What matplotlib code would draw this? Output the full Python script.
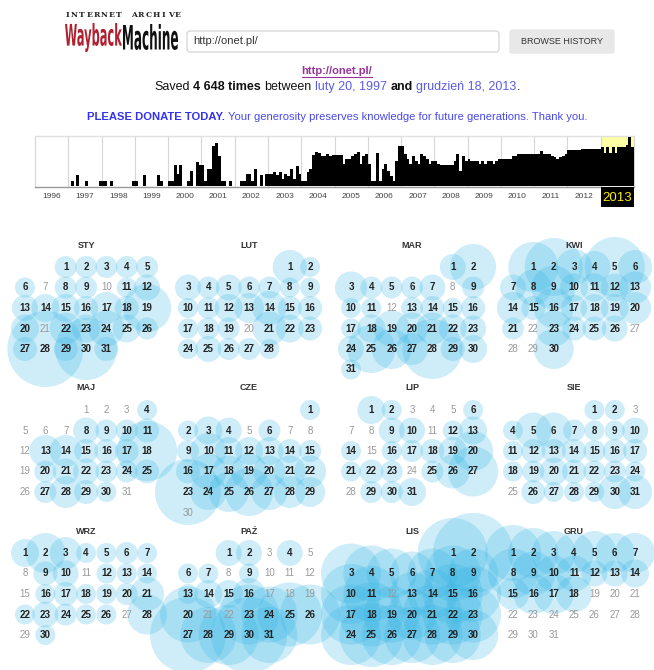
import calendar
import matplotlib
matplotlib.use('Agg')
import matplotlib.pyplot as plt
from matplotlib.patches import Circle, Rectangle, FancyBboxPatch, PathPatch
from matplotlib.textpath import TextPath
from matplotlib.font_manager import FontProperties
from matplotlib.transforms import Affine2D

plt.rcParams['font.family'] = ['Liberation Sans', 'DejaVu Sans']

#####################
# Data
#####################
url = 'http://onet.pl/'
years = list(range(1996, 2014))

# monthly capture bars, fraction of the strip height
y1996 = [0, 0, 0, 0, 0, 0, 0, 0, 0, 0, 0, 0]
y1997 = [0, .1, 0, .23, 0, 0, .1, 0, 0, 0, 0, .1]
y1998 = [.1, .1, 0, .1, 0, 0, 0, 0, 0, 0, 0, .1]
y1999 = [.1, 0, 0, .23, 0, 0, 0, 0, .23, .1, 0, 0]
y2000 = [.1, .1, .43, .25, .43, 0, 0, .1, .3, 0, .48, .42]
y2001 = [.42, .1, .35, .35, .8, .86, .6, .1, .1, 0, .1, 0]
y2002 = [0, 0, .1, .1, .25, .25, .1, .35, 0, .23, 0, .25]
y2003 = [.25, .25, .28, .22, .28, .15, .25, .2, .35, .15, .4, .25]
y2004 = [.1, .1, .28, .35, .62, .68, .66, .6, .6, .65, .6, .62]
y2005 = [.62, .62, .62, .45, .55, .55, .6, .65, .68, .45, .6, .65]
y2006 = [.45, .1, .1, .66, .1, .35, .45, .3, .2, .1, .5, .8]
y2007 = [.8, .65, .55, .45, .6, .5, .45, .65, .6, .55, .45, .5]
y2008 = [.5, .45, .42, .42, .42, .42, .42, .5, .65, .3, .6, .5]
y2009 = [.55, .5, .5, .5, .45, .5, .45, .5, .5, .45, .5, .55]
y2010 = [.55, .55, .55, .55, .6, .6, .65, .65, .65, .65, .65, .65]
y2011 = [.65, .65, .7, .65, .65, .65, .6, .58, .55, .58, .6, .65]
y2012 = [.72, .72, .72, .72, .72, .75, .75, .75, .75, .75, .75, .75]
y2013 = [.79, .66, .79, .66, .79, .66, .79, .79, .79, .82, .99, .79]
year_bars = [y1996, y1997, y1998, y1999, y2000, y2001, y2002, y2003, y2004,
             y2005, y2006, y2007, y2008, y2009, y2010, y2011, y2012, y2013]

month_names = ['STY', 'LUT', 'MAR', 'KWI', 'MAJ', 'CZE',
               'LIP', 'SIE', 'WRZ', 'PAŹ', 'LIS', 'GRU']

# bubble radius per day of 2013 (0 = no capture)
sty = [11, 11, 11, 11, 11, 10, 0, 11, 11, 0, 10, 13, 13, 14, 14, 12, 16, 12, 24, 14,
       0, 16, 14, 18, 14, 11, 12, 38, 12, 31, 12]
lut = [17, 10, 13, 11, 13, 11, 11, 10, 10, 10, 11, 14, 15, 17, 12, 12, 10, 11, 11, 0,
       17, 14, 12, 10, 13, 11, 11, 10]
mar = [13, 23, 16, 11, 11, 11, 13, 0, 11, 10, 10, 0, 11, 12, 10, 12, 10, 14, 18, 16,
       16, 14, 13, 13, 24, 20, 16, 30, 12, 14, 10]
kwi = [25, 29, 18, 16, 30, 17, 13, 18, 22, 14, 14, 14, 16, 16, 12, 20, 13, 14, 14, 16,
       11, 0, 18, 12, 12, 13, 0, 0, 0, 20]
maj = [0, 0, 0, 10, 0, 0, 0, 13, 11, 11, 12, 0, 16, 16, 12, 12, 12, 30, 0, 11,
       13, 13, 11, 11, 12, 0, 11, 16, 12, 10, 0]
cze = [10, 10, 14, 13, 0, 11, 0, 0, 11, 18, 14, 14, 14, 12, 11, 12, 18, 16, 18, 16,
       16, 16, 33, 18, 20, 24, 18, 16, 15, 0]
lip = [14, 10, 0, 0, 0, 10, 0, 0, 13, 13, 0, 10, 14, 10, 0, 10, 11, 12, 14, 20,
       10, 12, 11, 0, 11, 17, 25, 0, 11, 11, 14]
sie = [10, 10, 0, 10, 18, 18, 11, 10, 10, 13, 10, 12, 12, 12, 11, 12, 12, 10, 11, 14,
       12, 11, 11, 10, 0, 12, 10, 10, 10, 17, 17]
wrz = [14, 20, 16, 10, 10, 11, 10, 0, 12, 13, 0, 10, 10, 10, 0, 10, 12, 10, 10, 11,
       17, 10, 13, 11, 10, 10, 0, 20, 0, 10]
paz = [13, 13, 0, 13, 0, 10, 10, 0, 10, 0, 0, 0, 10, 14, 14, 16, 0, 0, 0, 28,
       0, 0, 30, 28, 32, 30, 38, 28, 30, 38, 28]
lis = [35, 40, 30, 28, 25, 22, 25, 28, 25, 30, 28, 0, 22, 25, 30, 28, 30, 32, 28, 25,
       30, 30, 28, 30, 32, 30, 28, 30, 28, 25]
gru = [28, 25, 22, 20, 22, 20, 20, 25, 22, 18, 18, 13, 13, 14, 16, 20, 20, 18, 0, 0,
       0, 0, 0, 0, 0, 0, 0, 0, 0, 0, 0]
month_radii = [sty, lut, mar, kwi, maj, cze, lip, sie, wrz, paz, lis, gru]

#####################
# Figure
#####################
fig = plt.figure(figsize=(6.54, 6.70), dpi=100)
ax = fig.add_axes([0, 0, 1, 1])
ax.set_xlim(0, 654)
ax.set_ylim(670, 0)
ax.axis('off')
renderer = fig.canvas.get_renderer()


def fit_text(s, x0, x1, y0, y1, color, weight='bold', family='DejaVu Sans'):
    tp = TextPath((0, 0), s, size=20, prop=FontProperties(family=family, weight=weight))
    bb = tp.get_extents()
    tr = (Affine2D().translate(-bb.x0, -bb.y0)
          .scale((x1 - x0) / bb.width, -(y1 - y0) / bb.height)
          .translate(x0, y1))
    ax.add_patch(PathPatch(tp, transform=tr + ax.transData, color=color, lw=0))


def text_w(t):
    return t.get_window_extent(renderer).width


def rich_line(pieces, xc, y, size):
    probe = ax.text(0, 0, 'x x', fontsize=size)
    probe2 = ax.text(0, 0, 'xx', fontsize=size)
    space = text_w(probe) - text_w(probe2)
    probe.remove()
    probe2.remove()
    objs = []
    for s, color, weight, gap in pieces:
        objs.append((ax.text(0, y, s, color=color, fontsize=size, fontweight=weight,
                             ha='left', va='center', zorder=5), gap))
    total = sum(text_w(t) + (space if g else 0) for t, g in objs)
    x = xc - total / 2
    out = []
    for t, g in objs:
        if g:
            x += space
        t.set_x(x)
        out.append((x, text_w(t)))
        x += text_w(t)
    return out


# header: logo, search box, button
ia = 'INTERNET ARCHIVE'
for i, ch in enumerate(ia):
    ax.text(67 + i * 7.4, 15, ch, fontsize=5.5, fontweight='bold', family='DejaVu Serif',
            color='#222222', ha='center', va='center')
fit_text('Wayback', 65, 122, 23, 52, '#b0202e', family='DejaVu Sans')
fit_text('Machine', 123, 178, 24, 50, '#111111', family='DejaVu Sans')

ax.add_patch(FancyBboxPatch((187, 31), 312, 21, boxstyle='round,pad=0,rounding_size=3',
                            fc='white', ec='#d0d0d0', lw=0.8))
ax.text(193, 41.5, url, fontsize=8, color='#333333', va='center')
ax.add_patch(FancyBboxPatch((510, 30), 104, 23, boxstyle='round,pad=0,rounding_size=2',
                            fc='#e8e8e8', ec='#e8e8e8', lw=1))
ax.text(562, 41.5, 'BROWSE HISTORY', fontsize=6.5, color='#333333', ha='center', va='center')

link = rich_line([(url, '#993399', 'bold', False)], 337, 71, 8)
ax.plot([link[0][0], link[0][0] + link[0][1]], [76.5, 76.5], color='#993399', lw=0.8)

rich_line([('Saved', '#111111', 'normal', False),
           ('4 648 times', '#111111', 'bold', True),
           ('between', '#111111', 'normal', True),
           ('luty 20, 1997', '#5b5bea', 'normal', True),
           ('and', '#111111', 'bold', True),
           ('grudzień 18, 2013', '#5b5bea', 'normal', True),
           ('.', '#111111', 'normal', False)], 337, 87, 9)

rich_line([('PLEASE DONATE TODAY.', '#3333ee', 'bold', False),
           ('Your generosity preserves knowledge for future generations. Thank you.',
            '#4a4ae8', 'normal', True)], 337, 117, 8.1)

#####################
# Timeline strip
#####################
tl_x0, tl_x1, tl_top, tl_bot = 35, 634, 136, 186
yw = (tl_x1 - tl_x0) / len(years)
ax.add_patch(Rectangle((tl_x0 + 17 * yw, tl_top), yw, tl_bot - tl_top, fc='#ffffa6', ec='none', zorder=1))
for i in range(len(years) + 1):
    ax.plot([tl_x0 + i * yw] * 2, [tl_top, tl_bot], color='#d6d6d6', lw=0.8, zorder=1)
ax.plot([tl_x0, tl_x1], [tl_top, tl_top], color='#e0e0e0', lw=1, zorder=1)
for i, vals in enumerate(year_bars):
    xs = [tl_x0 + i * yw + (m + 0.5) * yw / 12 for m in range(12)]
    ax.bar(xs, [-v * (tl_bot - tl_top) for v in vals], bottom=tl_bot, width=yw / 12 * 1.08,
           color='black', lw=0, zorder=2)
ax.plot([tl_x0, tl_x1], [tl_bot + 0.5, tl_bot + 0.5], color='#999999', lw=1, zorder=3)
for i, yr in enumerate(years):
    xc = tl_x0 + (i + 0.5) * yw
    if yr == 2013:
        ax.add_patch(Rectangle((tl_x0 + i * yw, tl_bot + 1), yw, 20, fc='black', ec='none', zorder=3))
        ax.text(xc, 198, str(yr), fontsize=9.5, color='#ffee00', ha='center', va='center', zorder=4)
    else:
        ax.text(xc, 196, str(yr), fontsize=6, color='#444444', ha='center', va='center')

#####################
# Calendar bubbles
#####################
calendar.setfirstweekday(calendar.SUNDAY)
col_x = [25, 188, 351, 513]
row_y = [267, 410, 553]
dx, dy = 20.35, 20.5

for m, radii in enumerate(month_radii):
    x0 = col_x[m % 4]
    y0 = row_y[m // 4]
    ax.text(x0 + 3 * dx, y0 - 22, month_names[m], fontsize=6.5, fontweight='bold',
            color='#333333', ha='center', va='center', zorder=6)
    for r, week in enumerate(calendar.monthcalendar(2013, m + 1)):
        for c, day in enumerate(week):
            if day == 0:
                continue
            x = x0 + c * dx
            y = y0 + r * dy
            rad = radii[day - 1]
            if rad > 0:
                ax.add_patch(Circle((x, y), rad, fc='#33b5e5', alpha=0.24, ec='none', zorder=2))
                ax.text(x, y, str(day), fontsize=7, fontweight='bold', color='#222222',
                        ha='center', va='center', zorder=6)
            else:
                ax.text(x, y, str(day), fontsize=7, color='#999999',
                        ha='center', va='center', zorder=6)

fig.savefig('out.png', dpi=100)
